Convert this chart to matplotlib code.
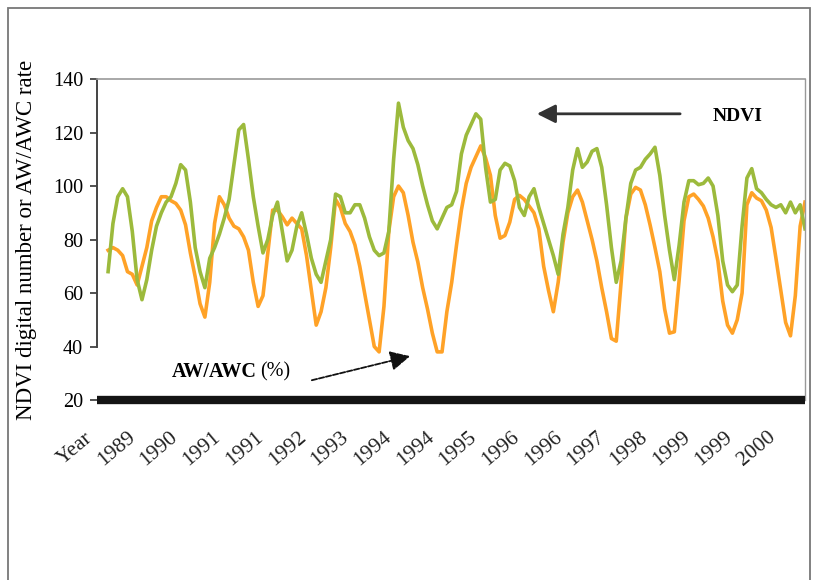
import matplotlib
matplotlib.use("Agg")
import numpy as np
import matplotlib.pyplot as plt
from matplotlib.patches import Rectangle

plt.rcParams["font.family"] = ["Liberation Serif", "DejaVu Serif"]

# monthly readings, Jan 1989 onwards
ndvi = [68, 86, 96, 99, 96, 83, 65, 57.5, 65, 76, 85, 90, 94, 96, 101, 108, 106, 94, 77, 68,
        62, 73, 77, 82, 88, 95, 108, 121, 123, 110, 96, 85, 75, 80, 89, 94, 83, 72, 76, 85,
        90, 82, 73, 67, 64, 72, 80, 97, 96, 90, 90, 93, 93, 88, 81, 76, 74, 75, 83, 110,
        131, 122, 117, 114, 108, 100, 93, 87, 84, 88, 92, 93, 98, 112, 119, 123, 127, 125, 107, 94,
        95, 106, 108.5, 107.5, 102, 92, 89, 96, 99, 92, 86, 80, 74, 67, 82, 92, 106, 114, 107, 109,
        113, 114, 107, 93, 77, 64, 72, 88, 101, 106, 107, 110, 112, 114.5, 104, 89, 76, 65, 78, 94,
        102, 102, 100.5, 101, 103, 100, 89, 72, 63, 60.5, 63, 85, 103, 106.5, 99, 97.5, 95, 93, 92, 93,
        90, 94, 90, 93, 84]
aw_awc = [76, 77, 76, 74, 68, 67, 63, 70, 77, 87, 92, 96, 96, 94.5, 93.5, 91, 85.5, 75, 66, 56,
          51, 64, 86, 96, 93, 88, 85, 84, 81, 76, 64, 55, 59, 75, 91, 91, 88.5, 85.5, 88, 86,
          84, 74, 61, 48, 53, 62, 77, 95, 92, 86, 83, 78, 70, 60, 50, 40, 38, 55, 83, 96,
          100, 97.5, 89, 79, 71.6, 62, 54, 45, 38, 38, 53, 64, 78, 91, 101, 107, 111, 115, 110.5, 104,
          89, 80.5, 81.5, 86.5, 95, 96.5, 95, 92.5, 90, 84, 70, 61, 53, 64, 79, 90, 96, 98.5, 94, 87,
          80, 72, 62, 53, 43, 42, 64, 88, 97, 99.5, 98.5, 93, 85.4, 77, 68, 54, 45, 45.5, 65, 87,
          96, 97, 95, 92.5, 88, 81, 72, 57, 48, 45, 50, 60, 93, 97.5, 95.5, 94.5, 91, 84.5, 73, 61,
          49, 44, 59, 85, 94]

year_labels = ["1989", "1990", "1991", "1991", "1992", "1993", "1994", "1994",
               "1995", "1996", "1996", "1997", "1998", "1999", "1999", "2000"]
y_ticks = [20, 40, 60, 80, 100, 120, 140]


def main():
    fig = plt.figure(figsize=(8.19, 5.8), dpi=100)
    ax = fig.add_axes([0.1184, 0.3103, 0.8645, 0.5534])

    months = np.arange(len(ndvi))
    ax.plot(months, aw_awc, color="#FFA227", lw=2.6, solid_joinstyle="round")
    ax.plot(months, ndvi, color="#9CBA3C", lw=2.6, solid_joinstyle="round")

    ax.set_xlim(-2.3, 144)
    ax.set_ylim(20, 140)

    # frame: dotted top, thin right, thick bar at 20
    ax.spines["top"].set_linestyle((0, (1, 1)))
    ax.spines["top"].set_color("#999999")
    ax.spines["top"].set_linewidth(1.2)
    ax.spines["right"].set_color("#999999")
    ax.spines["right"].set_linewidth(1.0)
    ax.spines["bottom"].set_color("#141414")
    ax.spines["bottom"].set_linewidth(6)
    ax.spines["bottom"].set_capstyle("butt")
    ax.spines["left"].set_color("#444444")
    ax.spines["left"].set_linewidth(1.4)
    ax.spines["left"].set_bounds(40, 140)

    ax.set_yticks(y_ticks)
    ax.set_yticklabels([str(v) for v in y_ticks])
    ax.tick_params(axis="y", direction="out", length=5, width=1.3, color="#444444",
                   labelsize=14.5, pad=5)

    # category-style year labels, evenly spaced
    tick_pos = -4.96 + 8.82 * np.arange(len(year_labels) + 1)
    ax.set_xticks(tick_pos[1:])
    ax.set_xticklabels(year_labels, rotation=40, ha="right", va="top",
                       rotation_mode="anchor", fontsize=15.5, color="#222222")
    ax.tick_params(axis="x", length=0, pad=20)
    ax.text(tick_pos[0], -0.09, "Year", transform=ax.get_xaxis_transform(),
            rotation=40, ha="right", va="top", rotation_mode="anchor",
            fontsize=15.5, color="#222222", clip_on=False)

    ax.set_ylabel("NDVI digital number or AW/AWC rate", fontsize=16.5, labelpad=10)
    ax.yaxis.set_label_coords(-0.085, 0.5)

    # NDVI arrow
    ax.annotate("", xy=(88.6, 127), xytext=(118.2, 127),
                arrowprops=dict(arrowstyle="-|>", color="#333333", lw=2,
                                mutation_scale=28, shrinkA=0, shrinkB=0))
    ax.text(130, 126, "NDVI", fontsize=14, fontweight="bold", ha="center", va="center")

    # AW/AWC arrow
    ax.annotate("", xy=(62.4, 36.4), xytext=(42.1, 27.4),
                arrowprops=dict(arrowstyle="-|>", color="#111111", lw=1.3,
                                linestyle=(0, (3, 1)), mutation_scale=30,
                                shrinkA=0, shrinkB=0))
    t1 = ax.text(13.2, 30.6, "AW/AWC", fontsize=14.5, fontweight="bold",
                 ha="left", va="center")
    ax.annotate("(%)", xy=(1, 0.5), xycoords=t1, xytext=(2, 0),
                textcoords="offset points", fontsize=14.5, va="center", ha="left")

    # outer box around the figure
    fig.patches.append(Rectangle((8 / 819, -0.05), 802 / 819, 1.05 - 8 / 580,
                                 transform=fig.transFigure, fill=False,
                                 edgecolor="#777777", lw=1.3))

    fig.savefig("out.png", dpi=100)


if __name__ == "__main__":
    main()
